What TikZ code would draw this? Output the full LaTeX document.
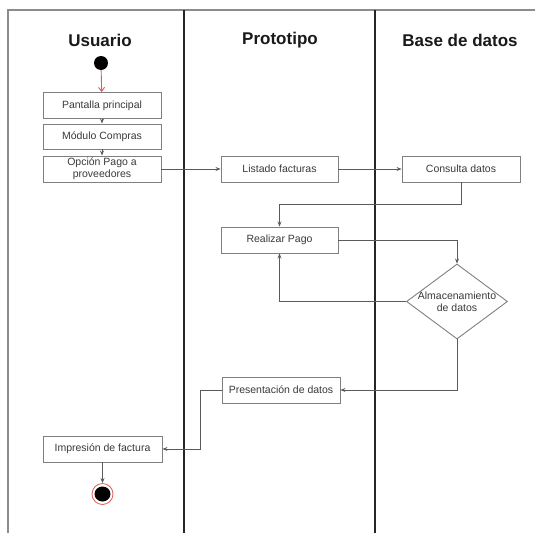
\documentclass[tikz,border=0pt]{standalone}
\usepackage{fontspec}
\setmainfont{Liberation Sans}
\usetikzlibrary{shapes.geometric,arrows.meta}
\definecolor{boxline}{HTML}{808080}
\definecolor{boxtext}{HTML}{3A3A3A}
\definecolor{conn}{HTML}{5A5A5A}
\definecolor{startred}{HTML}{E05A5A}
\tikzset{
  actbox/.style={draw=boxline, line width=0.9pt, fill=white, minimum width=118pt, minimum height=26pt,
     inner sep=1pt, align=center, text=boxtext, font=\fontsize{10.5}{12}\selectfont},
  lanetitle/.style={font=\bfseries\fontsize{17}{20}\selectfont, text=black!90},
  flow/.style={draw=conn, line width=0.9pt, -{Stealth[length=5pt,width=4pt]}},
  lane/.style={draw=black!85, line width=1.6pt},
}
\begin{document}
\begin{tikzpicture}[x=1pt,y=-1pt]
\useasboundingbox (0,0) rectangle (535,533);
% frame
\draw[draw=black!45, line width=1.4pt] (8,533) -- (8,10) -- (535,10);
\draw[lane] (184,10) -- (184,533);
\draw[lane] (375,10) -- (375,533);
% titles
\node[lanetitle] (t1) at (100,40) {Usuario};
\node[lanetitle] (t2) at (280,40) {Prototipo};
\node[lanetitle] (t3) at (460,40) {Base de datos};
% start
\node (start) [circle, fill=black, minimum size=14pt, inner sep=0] at (101,63) {};
% boxes
\node[actbox] (pant) at (102,105.5) {Pantalla principal};
\node[actbox, minimum height=25pt] (mod) at (102,136.5) {Módulo Compras};
\node[actbox] (opc) at (102,169) {Opción Pago a\\proveedores};
\node[actbox, minimum width=117pt] (list) at (279.5,169) {Listado facturas};
\node[actbox] (cons) at (461,169) {Consulta datos};
\node[actbox, minimum width=117pt] (real) at (279.5,240) {Realizar Pago};
\node (dia) [diamond, draw=boxline, line width=0.9pt, fill=white, minimum width=101pt, minimum height=75pt, inner sep=0] at (457,301.5) {};
\node[align=center, text=boxtext, font=\fontsize{10.5}{12}\selectfont, inner sep=0] (diatext) at (dia.center) {Almacenamiento\\de datos};
\node[actbox] (pres) at (281,390) {Presentación de datos};
\node[actbox, minimum width=119pt] (imp) at (102.5,449) {Impresión de factura};
% end
\node (end) [circle, draw=startred, line width=0.8pt, minimum size=21pt, inner sep=0] at (102.5,494) {};
\fill[black] (end.center) circle[x radius=8pt, y radius=7.5pt];
% connectors
\draw[draw=startred, line width=0.9pt, -{Straight Barb[length=4pt,width=6pt]}] (start) -- (pant);
\draw[flow] (pant) -- (mod);
\draw[flow] (mod) -- (opc);
\draw[flow] (opc) -- (list);
\draw[flow] (list) -- (cons);
\draw[flow] (cons.south) -- ++(0,22) -| (real.north);
\draw[flow] (real.east) -| (dia.north);
\draw[flow] (dia.west) -| (real.south);
\draw[flow] (dia.south) |- (pres.east);
\draw[flow] (pres.west) -- ++(-21,0) |- (imp.east);
\draw[flow] (imp) -- (end);
\end{tikzpicture}
\end{document}
